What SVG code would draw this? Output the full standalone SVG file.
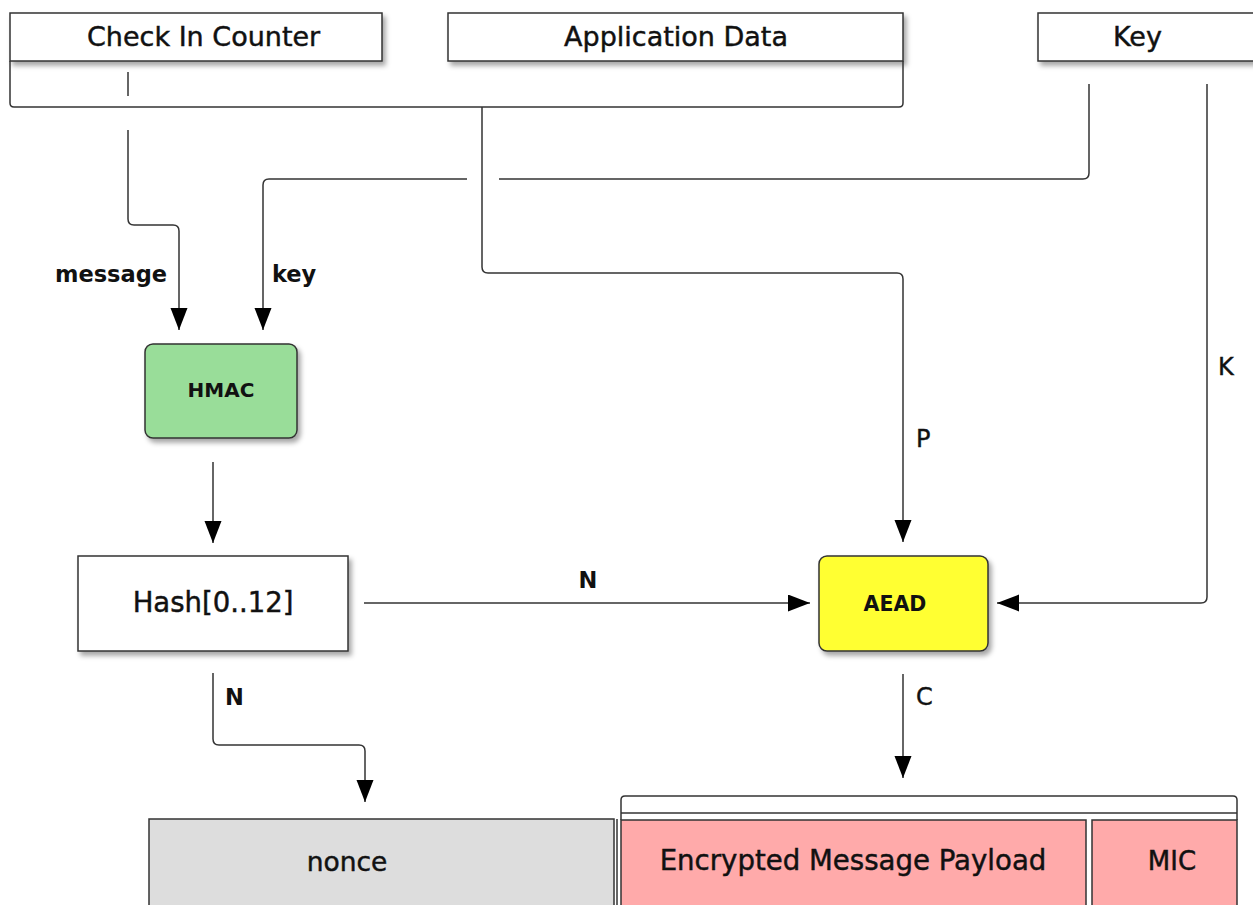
<svg xmlns="http://www.w3.org/2000/svg" width="1253" height="905" viewBox="0 0 1253 905">
<style>
  .box { stroke:#333; stroke-width:1.5; }
  .conn { fill:none; stroke:#333; stroke-width:1.5; }
  .t { font-family:"DejaVu Sans", Verdana, sans-serif; font-size:27px; fill:#111; stroke:#111; stroke-width:0.45; }
  .b { font-family:"DejaVu Sans", Verdana, sans-serif; font-weight:bold; font-size:22.5px; fill:#111; }
  .lbl { font-family:"DejaVu Sans", Verdana, sans-serif; font-size:24px; fill:#111; stroke:#111; stroke-width:0.4; }
</style>
<defs>
  <filter id="sh" x="-10%" y="-10%" width="130%" height="140%">
    <feDropShadow dx="3" dy="4" stdDeviation="2.5" flood-color="#000" flood-opacity="0.35"/>
  </filter>
  <marker id="arr" markerUnits="userSpaceOnUse" markerWidth="22" markerHeight="18" refX="22" refY="8.5" orient="auto">
    <path d="M0,0 L22,8.5 L0,17 z" fill="#000"/>
  </marker>
</defs>
<rect width="1253" height="905" fill="#fff"/>

<g id="check-in-counter">
  <rect class="box" x="10" y="13" width="372" height="48" fill="#fff" filter="url(#sh)"/>
  <text class="t" x="87" y="46">Check In Counter</text>
</g>
<g id="application-data">
  <rect class="box" x="448" y="13" width="455" height="48" fill="#fff" filter="url(#sh)"/>
  <text class="t" x="676" y="46" text-anchor="middle">Application Data</text>
</g>
<g id="key">
  <rect class="box" x="1038" y="13" width="240" height="48" fill="#fff" filter="url(#sh)"/>
  <text class="t" x="1113" y="46">Key</text>
</g>
<g id="hmac">
  <rect class="box" x="145" y="344" width="152" height="94" rx="8" fill="#99dd99" filter="url(#sh)"/>
  <text class="b" x="221" y="397" text-anchor="middle" style="font-size:20px">HMAC</text>
</g>
<g id="hash">
  <rect class="box" x="78" y="556" width="270" height="95" fill="#fff" filter="url(#sh)"/>
  <text class="t" x="213" y="612" text-anchor="middle" style="font-size:27.5px">Hash[0..12]</text>
</g>
<g id="aead">
  <rect class="box" x="819" y="556" width="169" height="95" rx="8" fill="#ffff33" filter="url(#sh)"/>
  <text class="b" x="895" y="611" text-anchor="middle" style="font-size:20.5px">AEAD</text>
</g>
<g id="nonce">
  <rect class="box" x="149" y="819" width="465" height="110" fill="#dddddd"/>
  <line class="conn" x1="617" y1="819" x2="617" y2="905"/>
  <text class="t" x="347" y="871" text-anchor="middle" style="font-size:26.5px">nonce</text>
</g>
<g id="payload-group">
  <path class="conn" d="M621,820 V800 Q621,796 625,796 H1233 Q1237,796 1237,800 V820"/>
  <line class="conn" x1="621" y1="813" x2="1237" y2="813"/>
</g>
<g id="encrypted-payload">
  <rect class="box" x="621" y="820" width="465" height="110" fill="#ffaaaa"/>
  <text class="t" x="853" y="870" text-anchor="middle" style="font-size:27.6px">Encrypted Message Payload</text>
</g>
<g id="mic">
  <rect class="box" x="1092" y="820" width="145" height="110" fill="#ffaaaa"/>
  <text class="t" x="1172" y="870" text-anchor="middle" style="font-size:26px">MIC</text>
</g>

<g id="connectors">
  <path class="conn" d="M10,61 V103 Q10,107 14,107 H899 Q903,107 903,103 V61"/>
  <line class="conn" x1="128" y1="72" x2="128" y2="96"/>
  <path class="conn" d="M128,130 V219 Q128,225 134,225 H173 Q179,225 179,231 V330" marker-end="url(#arr)"/>
  <path class="conn" d="M1089,84 V173 Q1089,179 1083,179 H499"/>
  <path class="conn" d="M467,179 H269 Q263,179 263,185 V330" marker-end="url(#arr)"/>
  <path class="conn" d="M482,107 V267 Q482,273 488,273 H897 Q903,273 903,279 V542" marker-end="url(#arr)"/>
  <path class="conn" d="M1207,84 V597 Q1207,603 1201,603 H997" marker-end="url(#arr)"/>
  <path class="conn" d="M213,462 V543" marker-end="url(#arr)"/>
  <path class="conn" d="M364,603 H810" marker-end="url(#arr)"/>
  <path class="conn" d="M903,674 V778" marker-end="url(#arr)"/>
  <path class="conn" d="M213,673 V739 Q213,745 219,745 H359 Q365,745 365,751 V802" marker-end="url(#arr)"/>
  <text class="b" x="167" y="282" text-anchor="end">message</text>
  <text class="b" x="272" y="282">key</text>
  <text class="lbl" x="916" y="447">P</text>
  <text class="lbl" x="1218" y="375">K</text>
  <text class="b" x="588" y="588" text-anchor="middle">N</text>
  <text class="lbl" x="916" y="705">C</text>
  <text class="b" x="225" y="705">N</text>
</g>
</svg>
